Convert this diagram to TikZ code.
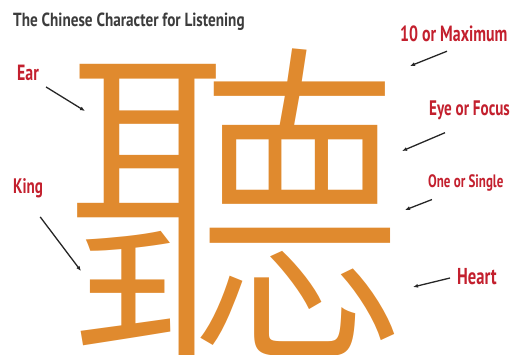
\documentclass[tikz,border=0pt]{standalone}
\usepackage{fontspec}
\usetikzlibrary{arrows.meta}
\newfontfamily\cjk{Noto Sans CJK TC Light}
\newfontfamily\labfont{PT Sans}[FakeStretch=0.72]
\newfontfamily\titlefont{PT Sans}[FakeStretch=0.8]
\definecolor{glyphorange}{HTML}{E08A2E}
\definecolor{labred}{HTML}{C3202E}
\definecolor{titlegray}{HTML}{3C3C3C}
\tikzset{
  lab/.style={text=labred,inner sep=0pt,anchor=west},
  pointer/.style={-{Latex[length=5pt,width=4pt]},line width=1.3pt,black!85}
}

\begin{document}
\begin{tikzpicture}[x=1pt,y=-1pt]
      \useasboundingbox (0,0) rectangle (527,354);
      \clip (0,0) rectangle (527,354);
      \node[anchor=base west,inner sep=0pt,text=glyphorange,font=\cjk\fontsize{345}{345}\selectfont] (glyph) at (63,336) {聽};
      \node[anchor=west,inner sep=0pt,text=titlegray,font=\titlefont\bfseries\fontsize{19}{19}\selectfont] (title) at (13,22) {The Chinese Character for Listening};
      \node[lab,font=\labfont\bfseries\fontsize{22}{22}\selectfont] (maximum) at (400,34) {10 or Maximum};
      \node[lab,font=\labfont\bfseries\fontsize{22}{22}\selectfont] (ear) at (17,73) {Ear};
      \node[lab,font=\labfont\bfseries\fontsize{21}{21}\selectfont] (focus) at (429,110) {Eye or Focus};
      \node[lab,font=\labfont\bfseries\fontsize{21}{21}\selectfont] (king) at (13,188) {King};
      \node[lab,font=\labfont\bfseries\fontsize{18}{18}\selectfont] (single) at (428,183) {One or Single};
      \node[lab,font=\labfont\bfseries\fontsize{23}{23}\selectfont] (heart) at (457,277) {Heart};
      \coordinate (maximum tip) at (410,66);
      \coordinate (ear tip) at (85,111);
      \coordinate (focus tip) at (402,151);
      \coordinate (king tip) at (81,271);
      \coordinate (single tip) at (405,210);
      \coordinate (heart tip) at (413,287);
      \draw[pointer] ([shift={(7,6)}]ear.south east) -- (ear tip);
      \draw[pointer] ([shift={(-3,19)}]king.south east) -- (king tip);
      \draw[pointer] ([shift={(47,9)}]maximum.south west) -- (maximum tip);
      \draw[pointer] ([shift={(16,13)}]focus.south west) -- (focus tip);
      \draw[pointer] ([shift={(4,8)}]single.south west) -- (single tip);
      \draw[pointer] ([shift={(-7,1)}]heart.west) -- (heart tip);
    \end{tikzpicture}
\end{document}
